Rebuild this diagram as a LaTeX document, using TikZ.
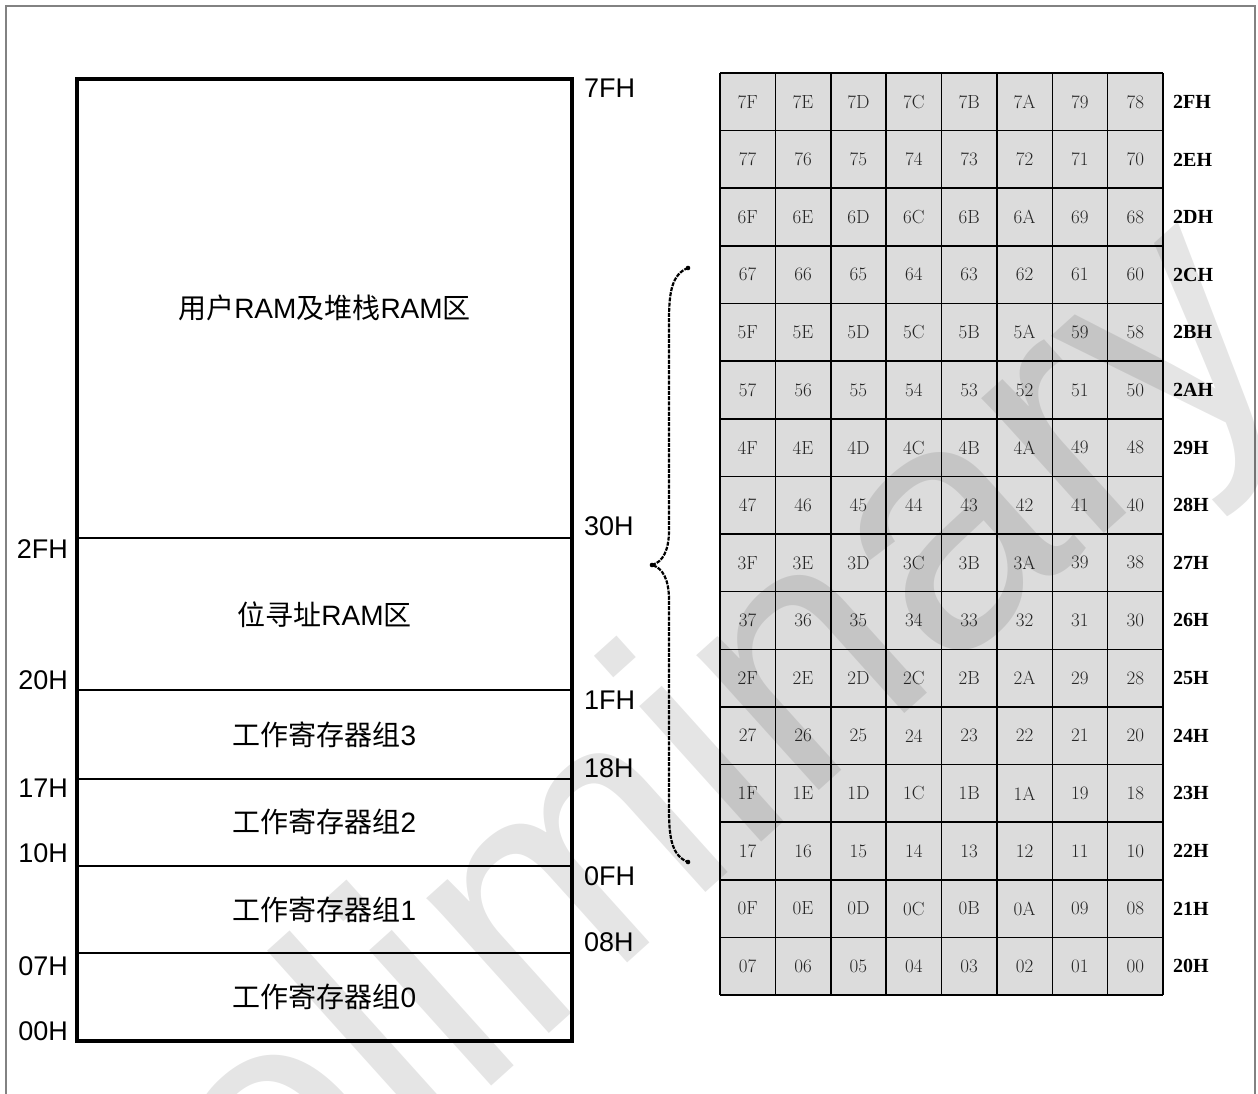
\documentclass[tikz,border=0pt]{standalone}
\usepackage{fontspec}
\newfontfamily\arial{Liberation Sans}
\newfontfamily\cjk{Noto Sans CJK SC}
\newfontfamily\tnr{Liberation Serif}
\definecolor{cellgray}{RGB}{220,220,220}
\definecolor{framegray}{RGB}{130,130,130}
\begin{document}
\begin{tikzpicture}[x=1pt,y=-1pt,
  addr/.style={font=\arial\fontsize{27}{27}\selectfont, inner sep=0pt},
  region/.style={font=\arial\fontsize{28}{28}\selectfont, inner sep=0pt},
  cellnum/.style={font=\fontsize{19}{19}\selectfont, text=black!85, inner sep=0pt},
  rowlab/.style={font=\tnr\bfseries\fontsize{20}{20}\selectfont, anchor=west, inner sep=0pt},
  bracepath/.style={line width=2.2pt, dash pattern=on 4pt off 1.2pt},
]
\useasboundingbox (0,0) rectangle (1258,1094);
% outer frame
\draw[framegray, line width=1.5pt] (6,1110) -- (6,6) -- (1255,6) -- (1255,1110);

% memory block
\draw[line width=4pt] (77,79) rectangle (572,1041);
\foreach \yy in {538,690,779,866,953}
  \draw[line width=2pt] (77,\yy) -- (572,\yy);

\node[region] (user) at (324.5,308) {{\cjk 用户}RAM{\cjk 及堆栈}RAM{\cjk 区}};
\node[region] (bit)  at (324.5,615) {{\cjk 位寻址}RAM{\cjk 区}};
\node[region] (rb3)  at (324.5,735) {{\cjk 工作寄存器组}3};
\node[region] (rb2)  at (324.5,822) {{\cjk 工作寄存器组}2};
\node[region] (rb1)  at (324.5,910) {{\cjk 工作寄存器组}1};
\node[region] (rb0)  at (324.5,997) {{\cjk 工作寄存器组}0};

% left address labels
\node[addr, anchor=east] (l2F) at (68,549) {2FH};
\node[addr, anchor=east] (l20) at (68,680) {20H};
\node[addr, anchor=east] (l17) at (68,788) {17H};
\node[addr, anchor=east] (l10) at (68,853) {10H};
\node[addr, anchor=east] (l07) at (68,966) {07H};
\node[addr, anchor=east] (l00) at (68,1031) {00H};
% right address labels
\node[addr, anchor=west] (r7F) at (584,88) {7FH};
\node[addr, anchor=west] (r30) at (584,526) {30H};
\node[addr, anchor=west] (r1F) at (584,700) {1FH};
\node[addr, anchor=west] (r18) at (584,768) {18H};
\node[addr, anchor=west] (r0F) at (584,876) {0FH};
\node[addr, anchor=west] (r08) at (584,942) {08H};

% brace
\coordinate (btop) at (688,268);
\coordinate (btip) at (652,565);
\coordinate (bbot) at (688,862);
\draw[bracepath] (btop) .. controls (672,274) and (669,292) .. (669,320) -- (669,530)
  .. controls (669,550) and (663,562) .. (btip)
  .. controls (663,568) and (669,580) .. (669,600) -- (669,810)
  .. controls (669,838) and (672,856) .. (bbot);
\fill (btop) circle (2.3pt) (btip) circle (2.3pt) (bbot) circle (2.3pt);

% bit grid
\fill[cellgray] (720,73) rectangle (1163,995);
\foreach \i in {0,...,8}
  \draw[line width=1.5pt] ({720+55.375*\i},73) -- ({720+55.375*\i},995);
\foreach \j in {0,...,16}
  \draw[line width=1.5pt] (720,{73+57.625*\j}) -- (1163,{73+57.625*\j});

\foreach \cells/\lab [count=\r from 0] in {
  {7F,7E,7D,7C,7B,7A,79,78}/2FH,
  {77,76,75,74,73,72,71,70}/2EH,
  {6F,6E,6D,6C,6B,6A,69,68}/2DH,
  {67,66,65,64,63,62,61,60}/2CH,
  {5F,5E,5D,5C,5B,5A,59,58}/2BH,
  {57,56,55,54,53,52,51,50}/2AH,
  {4F,4E,4D,4C,4B,4A,49,48}/29H,
  {47,46,45,44,43,42,41,40}/28H,
  {3F,3E,3D,3C,3B,3A,39,38}/27H,
  {37,36,35,34,33,32,31,30}/26H,
  {2F,2E,2D,2C,2B,2A,29,28}/25H,
  {27,26,25,24,23,22,21,20}/24H,
  {1F,1E,1D,1C,1B,1A,19,18}/23H,
  {17,16,15,14,13,12,11,10}/22H,
  {0F,0E,0D,0C,0B,0A,09,08}/21H,
  {07,06,05,04,03,02,01,00}/20H}{
  \foreach \v [count=\c from 0] in \cells {
    \node[cellnum] (cell-\r-\c) at ({720+55.375*(\c+0.5)},{73+57.625*(\r+0.5)}) {\v};
  }
  \node[rowlab] (row-\r) at (1173,{73+57.625*(\r+0.5)}) {\lab};
}

% watermark
\node[font=\arial\fontsize{345}{345}\selectfont, text=black, text opacity=0.1,
      rotate=42, inner sep=0pt] (wm) at (600,868) {Preliminary};
\end{tikzpicture}
\end{document}
